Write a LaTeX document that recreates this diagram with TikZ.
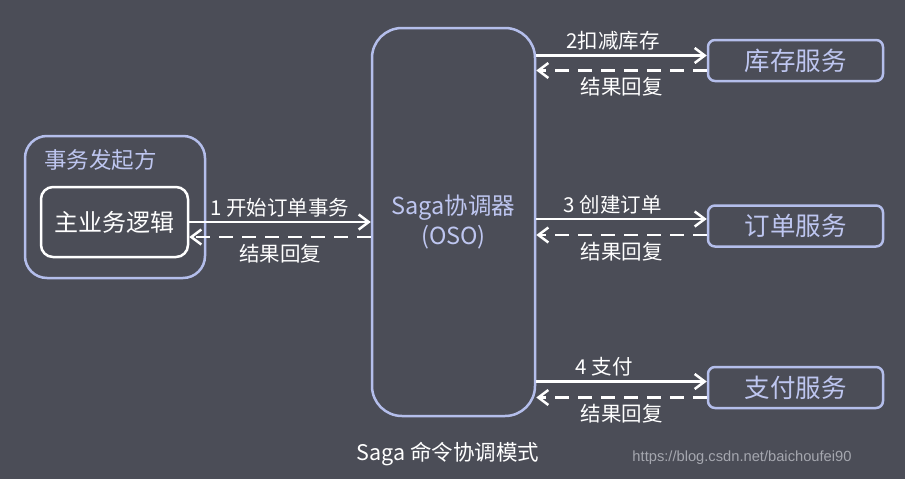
\documentclass[tikz,border=0pt]{standalone}
\usepackage{fontspec}
\setmainfont{Noto Sans CJK SC}
\newfontfamily\urlfont{Liberation Sans}
\usepackage{tikz}
\usetikzlibrary{arrows.meta,positioning}
\definecolor{sgbg}{RGB}{75,77,87}
\definecolor{sgline}{RGB}{180,190,235}
\definecolor{sgtext}{RGB}{190,198,240}
\definecolor{sggray}{RGB}{165,167,175}
\tikzstyle{svc} = [rectangle, rounded corners=7pt, minimum width=175pt, minimum height=41pt, draw=sgline, line width=2.5pt, text=sgtext, font=\fontsize{25.5}{28}\selectfont]
\tikzstyle{fwd} = [line width=2.5pt, white, -{Straight Barb[length=10pt,width=15pt,line width=2.5pt]}]
\tikzstyle{back} = [fwd, dash pattern=on 14pt off 9pt]
\tikzstyle{lbl} = [text=white, inner sep=2pt, font=\fontsize{20.5}{24}\selectfont]

\begin{document}
\begin{tikzpicture}[x=1pt, y=-1pt]
\fill[sgbg] (0,0) rectangle (905,479);
\useasboundingbox (0,0) rectangle (905,479);
% coordinator
\node (oso) [rectangle, rounded corners=30pt, minimum width=163pt, minimum height=388pt, draw=sgline, line width=2.5pt, text=sgtext, align=center, font=\fontsize{23.5}{30}\selectfont] at (453.5,222) {Saga协调器\\(OSO)};
% initiator
\node (init) [rectangle, rounded corners=22pt, minimum width=180pt, minimum height=142pt, draw=sgline, line width=2.5pt] at (115,207) {};
\node (initlbl) [anchor=west, inner sep=0pt, text=sgtext, font=\fontsize{22.5}{26}\selectfont] at (44,160) {事务发起方};
\node (main) [rectangle, rounded corners=12pt, minimum width=147pt, minimum height=70pt, draw=white, line width=2.5pt, text=white, font=\fontsize{24}{28}\selectfont] at (114.5,222) {主业务逻辑};
% services
\node (stock) [svc] at (795.5,60.5) {库存服务};
\node (order) [svc, below=122pt of stock] {订单服务};
\node (pay) [svc, below=118pt of order] {支付服务};
% calls
\draw[fwd] (main.east) -- (main.east -| oso.west) node[lbl, midway, above=2pt] {1 开始订单事务};
\draw[back] ([yshift=-15pt]main.east -| oso.west) -- ([yshift=-15pt]main.east) node[lbl, midway, below=4pt] {结果回复};
\draw[fwd] ([yshift=5pt]stock.west -| oso.east) -- ([yshift=5pt]stock.west) node[lbl, pos=0.45, above=2pt] {2扣减库存};
\draw[back] ([yshift=-10pt]stock.west) -- ([yshift=-10pt]stock.west -| oso.east) node[lbl, midway, below=4pt] {结果回复};
\draw[fwd] ([yshift=7pt]order.west -| oso.east) -- ([yshift=7pt]order.west) node[lbl, pos=0.45, above=2pt] {3 创建订单};
\draw[back] ([yshift=-9pt]order.west) -- ([yshift=-9pt]order.west -| oso.east) node[lbl, midway, below=4pt] {结果回复};
\draw[fwd] ([yshift=6pt]pay.west -| oso.east) -- ([yshift=6pt]pay.west) node[lbl, pos=0.4, above=2pt] {4 支付};
\draw[back] ([yshift=-10pt]pay.west) -- ([yshift=-10pt]pay.west -| oso.east) node[lbl, midway, below=4pt] {结果回复};
% captions
\node (cap) [text=white, font=\fontsize{21.5}{24}\selectfont] at (448,454) {Saga 命令协调模式};
\node (url) [text=sggray, font=\urlfont\fontsize{14.7}{17}\selectfont] at (742,458) {https://blog.csdn.net/baichoufei90};
\end{tikzpicture}
\end{document}
